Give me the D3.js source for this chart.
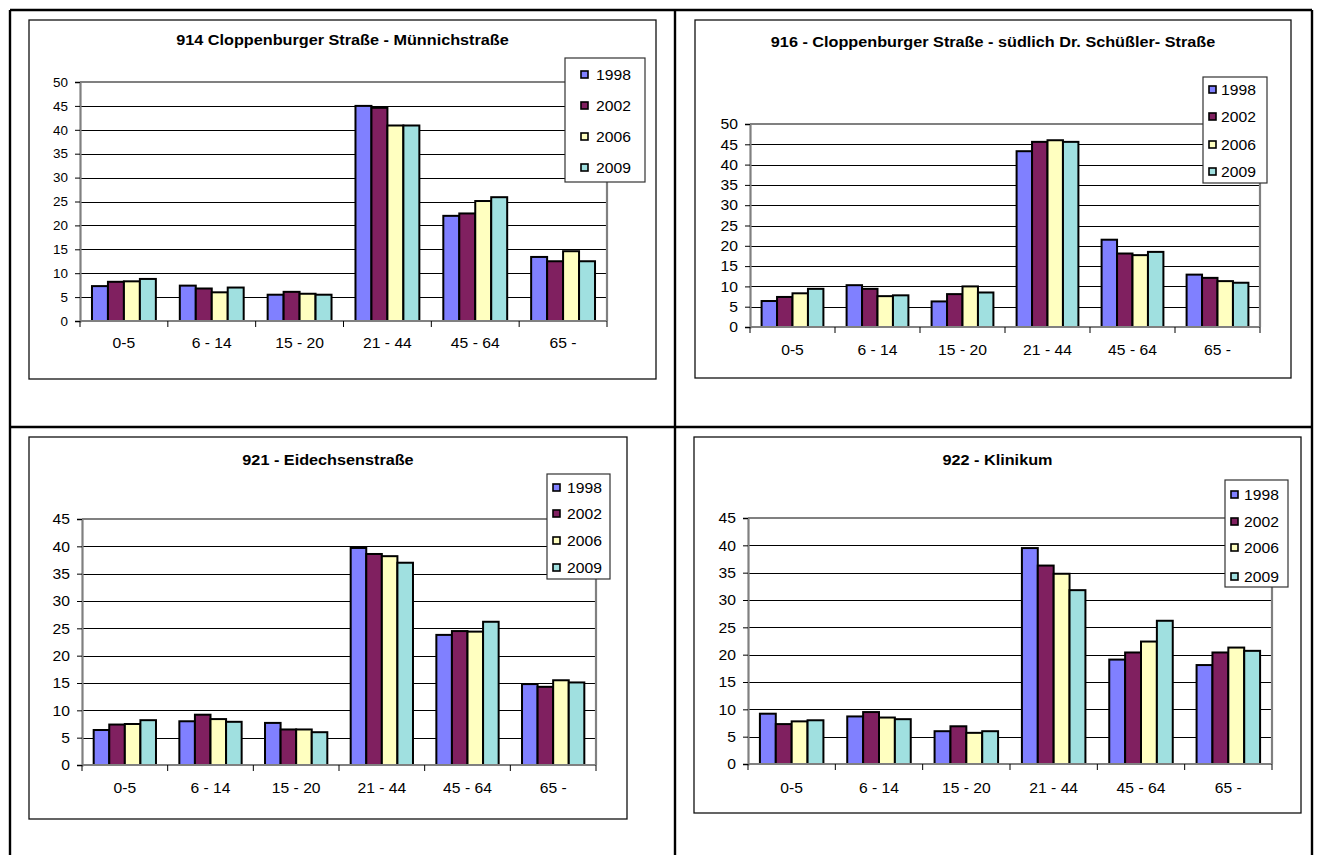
<!DOCTYPE html>
<html>
<head>
<meta charset="utf-8">
<script src="https://cdn.jsdelivr.net/npm/d3@7"></script>
<style>
  html, body { margin: 0; padding: 0; background: #fff; }
  svg { display: block; }
  text { font-family: "Liberation Sans", Arial, sans-serif; fill: #000; }
</style>
</head>
<body>
<svg id="page" width="1319" height="855"></svg>
<script>
// Age groups and survey years shared by all four stations
const categories = ["0-5", "6 - 14", "15 - 20", "21 - 44", "45 - 64", "65 -"];
const years = ["1998", "2002", "2006", "2009"];

// Tick labels of the value axes
const ticksTo50 = [0, 5, 10, 15, 20, 25, 30, 35, 40, 45, 50];
const ticksTo45 = [0, 5, 10, 15, 20, 25, 30, 35, 40, 45];

// Chart titles
const titles = [
  "914 Cloppenburger Straße - Münnichstraße",
  "916 - Cloppenburger Straße - südlich Dr. Schüßler- Straße",
  "921 - Eidechsenstraße",
  "922 - Klinikum"
];

// Shares per age group, one row per survey year (1998, 2002, 2006, 2009)
const values914 = [
  [7.3, 7.4, 5.5, 45.0, 22.0, 13.4],
  [8.2, 6.8, 6.1, 44.6, 22.5, 12.5],
  [8.3, 6.0, 5.7, 40.9, 25.1, 14.6],
  [8.8, 7.0, 5.5, 40.9, 25.9, 12.5]
];
const values916 = [
  [6.4, 10.3, 6.3, 43.3, 21.5, 12.9],
  [7.4, 9.4, 8.1, 45.6, 18.1, 12.1],
  [8.3, 7.6, 10.0, 46.0, 17.7, 11.3],
  [9.4, 7.8, 8.5, 45.6, 18.5, 10.9]
];
const values921 = [
  [6.4, 8.0, 7.7, 39.7, 23.8, 14.8],
  [7.4, 9.2, 6.5, 38.6, 24.5, 14.3],
  [7.5, 8.4, 6.5, 38.2, 24.4, 15.5],
  [8.2, 7.9, 6.0, 37.0, 26.2, 15.1]
];
const values922 = [
  [9.2, 8.7, 6.0, 39.5, 19.1, 18.1],
  [7.3, 9.5, 6.9, 36.3, 20.4, 20.4],
  [7.8, 8.5, 5.7, 34.8, 22.4, 21.3],
  [8.0, 8.2, 6.0, 31.8, 26.2, 20.7]
];

// Series fill colours
const seriesColors = ["#8080ff", "#802060", "#ffffc0", "#a0e0e0"];

// Chart text is set slightly wide
const STRETCH = 1.12;

// Placement of each chart on the page
const layouts = [
  { frame: [29, 20, 656, 379], titleY: 40, plot: [80, 82, 607, 321],
    tickFont: 12, catFont: 14, catY: 343,
    legend: [565, 58, 645, 182], legendSq: 581, legendText: 596, legendY: [75, 106, 137, 168], legendFont: 14 },
  { frame: [695, 20, 1291, 378], titleY: 42, plot: [750, 124, 1260, 327],
    tickFont: 14, catFont: 14, catY: 350,
    legend: [1203, 77, 1267, 183], legendSq: 1209, legendText: 1221, legendY: [90, 117, 145, 172], legendFont: 14 },
  { frame: [29, 437, 627, 819], titleY: 460, plot: [82, 519, 596, 765],
    tickFont: 14, catFont: 14, catY: 788,
    legend: [547, 474, 610, 579], legendSq: 553, legendText: 567, legendY: [488, 514, 541, 568], legendFont: 14 },
  { frame: [694, 437, 1301, 813], titleY: 460, plot: [748, 518, 1272, 764],
    tickFont: 14, catFont: 14, catY: 788,
    legend: [1225, 480, 1288, 587], legendSq: 1231, legendText: 1244, legendY: [495, 522, 548, 577], legendFont: 14 }
];

const svg = d3.select("#page");

// Table rules separating the four charts
const rules = [
  [10, 10, 1312, 10], [10, 427, 1312, 427],
  [10, 10, 10, 855], [675, 10, 675, 855], [1312, 10, 1312, 855]
];
svg.append("g").selectAll("line").data(rules).join("line")
  .attr("x1", d => d[0]).attr("y1", d => d[1])
  .attr("x2", d => d[2]).attr("y2", d => d[3])
  .attr("stroke", "#000").attr("stroke-width", 2.4);

// place a text element at (x, y) with the wide setting
function placeText(sel, x, y) {
  return sel.attr("x", 0).attr("y", 0)
    .attr("transform", `translate(${x},${y}) scale(${STRETCH},1)`);
}

function drawChart(title, values, ticks, L) {
  const g = svg.append("g");
  const [fx0, fy0, fx1, fy1] = L.frame;
  const [px0, py0, px1, py1] = L.plot;

  g.append("rect")
    .attr("x", fx0).attr("y", fy0)
    .attr("width", fx1 - fx0).attr("height", fy1 - fy0)
    .attr("fill", "#fff").attr("stroke", "#111").attr("stroke-width", 1.3);

  g.append("text")
    .attr("text-anchor", "middle").attr("dominant-baseline", "central")
    .attr("font-size", 14.5).attr("font-weight", "bold")
    .text(title)
    .call(placeText, (fx0 + fx1) / 2, L.titleY);

  const x0 = d3.scaleBand().domain(categories).range([px0, px1]).paddingInner(0).paddingOuter(0);
  const x1 = d3.scaleBand().domain(years).range([0, x0.bandwidth()]).paddingInner(0).paddingOuter(0.75);
  const y = d3.scaleLinear().domain([0, d3.max(ticks)]).range([py1, py0]);

  // horizontal gridlines
  g.append("g").selectAll("line").data(ticks.filter(t => t > 0 && t < d3.max(ticks))).join("line")
    .attr("x1", px0).attr("x2", px1)
    .attr("y1", d => Math.round(y(d)) + 0.5).attr("y2", d => Math.round(y(d)) + 0.5)
    .attr("stroke", "#000").attr("stroke-width", 1);

  // plot area border (top and right)
  g.append("path")
    .attr("d", `M${px0},${y(d3.max(ticks))}H${px1}V${py1}`)
    .attr("fill", "none").attr("stroke", "#808080").attr("stroke-width", 2.2);

  // bars
  g.append("g").selectAll("g").data(values).join("g")
    .attr("fill", (d, i) => seriesColors[i])
    .selectAll("rect")
    .data((row, si) => row.map((v, ci) => ({ v, ci, si })))
    .join("rect")
    .attr("x", d => x0(categories[d.ci]) + x1(years[d.si]))
    .attr("y", d => y(d.v))
    .attr("width", x1.bandwidth())
    .attr("height", d => y(0) - y(d.v))
    .attr("stroke", "#000").attr("stroke-width", 2);

  // value axis
  const yAxis = g.append("g")
    .attr("transform", `translate(${px0},0)`)
    .call(d3.axisLeft(y).tickValues(ticks).tickSize(5).tickPadding(7).tickFormat(d3.format("d")));
  yAxis.select(".domain").attr("stroke", "#808080").attr("stroke-width", 2.2);
  yAxis.selectAll(".tick line").attr("stroke", "#000");
  yAxis.selectAll(".tick text")
    .attr("font-size", L.tickFont)
    .attr("font-family", "Liberation Sans, Arial, sans-serif")
    .attr("dy", null).attr("dominant-baseline", "central")
    .call(placeText, -12, 0);

  // category axis with tick marks on group boundaries
  const bounds = categories.map(c => x0(c)).concat([px1]);
  g.append("line")
    .attr("x1", px0).attr("x2", px1).attr("y1", py1).attr("y2", py1)
    .attr("stroke", "#808080").attr("stroke-width", 2.2);
  g.append("g").selectAll("line").data(bounds).join("line")
    .attr("x1", d => d).attr("x2", d => d)
    .attr("y1", py1).attr("y2", py1 + 6)
    .attr("stroke", "#000").attr("stroke-width", 1);
  g.append("g").selectAll("text").data(categories).join("text")
    .attr("text-anchor", "middle").attr("dominant-baseline", "central")
    .attr("font-size", L.catFont)
    .text(d => d)
    .each(function (d) {
      d3.select(this).call(placeText, x0(d) + x0.bandwidth() / 2, L.catY);
    });

  // legend
  const [lx0, ly0, lx1, ly1] = L.legend;
  g.append("rect")
    .attr("x", lx0).attr("y", ly0).attr("width", lx1 - lx0).attr("height", ly1 - ly0)
    .attr("fill", "#fff").attr("stroke", "#333").attr("stroke-width", 1.2);
  const items = g.append("g").selectAll("g").data(years).join("g");
  items.append("rect")
    .attr("x", L.legendSq).attr("y", (d, i) => L.legendY[i] - 4)
    .attr("width", 7).attr("height", 7)
    .attr("fill", (d, i) => seriesColors[i])
    .attr("stroke", "#000").attr("stroke-width", 1.6);
  items.append("text")
    .attr("dominant-baseline", "central")
    .attr("font-size", L.legendFont)
    .text(d => d)
    .each(function (d, i) {
      d3.select(this).call(placeText, L.legendText, L.legendY[i]);
    });
}

drawChart(titles[0], values914, ticksTo50, layouts[0]);
drawChart(titles[1], values916, ticksTo50, layouts[1]);
drawChart(titles[2], values921, ticksTo45, layouts[2]);
drawChart(titles[3], values922, ticksTo45, layouts[3]);
</script>
</body>
</html>
